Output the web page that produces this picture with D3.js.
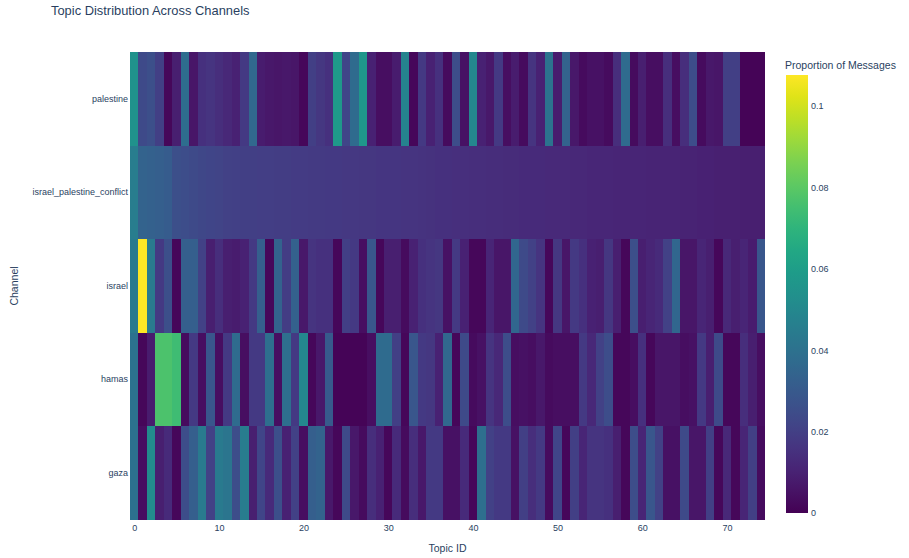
<!DOCTYPE html>
<html>
<head>
<meta charset="utf-8">
<script src="https://cdn.jsdelivr.net/npm/d3@7"></script>
<style>
  html, body { margin: 0; padding: 0; background: #fff; }
  svg text { font-family: "Liberation Sans", Arial, sans-serif; fill: #2a3f5f; }
</style>
</head>
<body>
<svg id="chart" width="909" height="558"></svg>
<script>
const channels = ["palestine", "israel_palestine_conflict", "israel", "hamas", "gaza"];
const topics = d3.range(0, 75);
const xTicks = [0, 10, 20, 30, 40, 50, 60, 70];
const colorTicks = [0, 0.02, 0.04, 0.06, 0.08, 0.1];

const palestine = [
  0.055, 0.024, 0.026, 0.020, 0.002, 0.009, 0.038, 0.006, 0.015, 0.016,
  0.014, 0.012, 0.010, 0.018, 0.036, 0.008, 0.007, 0.006, 0.007, 0.006,
  0.002, 0.020, 0.017, 0.015, 0.058, 0.022, 0.037, 0.057, 0.010, 0.004,
  0.004, 0.008, 0.048, 0.002, 0.018, 0.010, 0.015, 0.003, 0.025, 0.005,
  0.050, 0.010, 0.007, 0.018, 0.004, 0.008, 0.003, 0.016, 0.010, 0.041,
  0.008, 0.034, 0.007, 0.003, 0.005, 0.005, 0.003, 0.014, 0.037, 0.003,
  0.009, 0.004, 0.004, 0.014, 0.004, 0.014, 0.025, 0.003, 0.007, 0.006,
  0.020, 0.020, 0.001, 0.001, 0.001
];
const israelPalestineConflict = [
  0.045, 0.034, 0.033, 0.032, 0.031, 0.026, 0.025, 0.024, 0.023, 0.022,
  0.0215, 0.021, 0.0205, 0.0200, 0.0198, 0.0196, 0.0194, 0.0192, 0.0190, 0.0188,
  0.0186, 0.0184, 0.0182, 0.0180, 0.0178, 0.0176, 0.0174, 0.0172, 0.0170, 0.0168,
  0.0166, 0.0164, 0.0162, 0.0160, 0.0157, 0.0154, 0.0151, 0.0148, 0.0146, 0.0144,
  0.0142, 0.0140, 0.0138, 0.0136, 0.0134, 0.0132, 0.0130, 0.0128, 0.0127, 0.0126,
  0.0124, 0.0122, 0.0120, 0.0118, 0.0116, 0.0115, 0.0114, 0.0113, 0.0112, 0.0111,
  0.0110, 0.0109, 0.0108, 0.0107, 0.0106, 0.0104, 0.0102, 0.0100, 0.0098, 0.0096,
  0.0094, 0.0093, 0.0092, 0.0091, 0.0090
];
const israel = [
  0.044, 0.1076, 0.044, 0.018, 0.026, 0.002, 0.032, 0.032, 0.021, 0.009,
  0.014, 0.009, 0.008, 0.010, 0.018, 0.032, 0.002, 0.034, 0.019, 0.033,
  0.007, 0.016, 0.015, 0.015, 0.002, 0.020, 0.018, 0.004, 0.029, 0.002,
  0.009, 0.009, 0.003, 0.010, 0.015, 0.016, 0.017, 0.005, 0.018, 0.010,
  0.002, 0.002, 0.011, 0.006, 0.006, 0.035, 0.024, 0.021, 0.016, 0.002,
  0.017, 0.006, 0.018, 0.015, 0.010, 0.009, 0.017, 0.009, 0.002, 0.026,
  0.009, 0.011, 0.013, 0.021, 0.035, 0.006, 0.006, 0.011, 0.009, 0.002,
  0.012, 0.009, 0.011, 0.008, 0.029
];
const hamas = [
  0.040, 0.002, 0.008, 0.077, 0.077, 0.074, 0.003, 0.018, 0.004, 0.029,
  0.004, 0.018, 0.037, 0.004, 0.018, 0.018, 0.039, 0.004, 0.039, 0.018,
  0.050, 0.002, 0.007, 0.030, 0.001, 0.001, 0.001, 0.001, 0.004, 0.037,
  0.037, 0.020, 0.002, 0.029, 0.018, 0.017, 0.010, 0.036, 0.002, 0.024,
  0.003, 0.005, 0.016, 0.012, 0.025, 0.004, 0.005, 0.004, 0.007, 0.003,
  0.004, 0.004, 0.004, 0.018, 0.012, 0.021, 0.025, 0.002, 0.002, 0.004,
  0.015, 0.002, 0.006, 0.006, 0.006, 0.004, 0.005, 0.018, 0.009, 0.024,
  0.002, 0.002, 0.014, 0.009, 0.004
];
const gaza = [
  0.040, 0.004, 0.052, 0.009, 0.013, 0.002, 0.025, 0.032, 0.044, 0.021,
  0.044, 0.042, 0.025, 0.045, 0.009, 0.022, 0.013, 0.026, 0.010, 0.021,
  0.004, 0.032, 0.034, 0.007, 0.002, 0.024, 0.007, 0.003, 0.014, 0.010,
  0.002, 0.013, 0.003, 0.014, 0.007, 0.018, 0.018, 0.005, 0.005, 0.013,
  0.002, 0.039, 0.021, 0.018, 0.018, 0.005, 0.020, 0.014, 0.018, 0.003,
  0.022, 0.002, 0.020, 0.011, 0.016, 0.016, 0.015, 0.009, 0.002, 0.025,
  0.011, 0.029, 0.021, 0.005, 0.005, 0.024, 0.006, 0.006, 0.020, 0.002,
  0.012, 0.002, 0.011, 0.020, 0.003
];
const seriesByChannel = [palestine, israelPalestineConflict, israel, hamas, gaza];

const cells = [];
channels.forEach((ch, ci) => {
  seriesByChannel[ci].forEach((v, ti) => cells.push({ channel: ch, topic: topics[ti], value: v }));
});

const svg = d3.select("#chart");
const plot = { left: 130, right: 765, top: 52, bottom: 520 };

const x = d3.scaleLinear().domain([-0.5, 74.5]).range([plot.left, plot.right]);
const y = d3.scaleBand().domain(channels).range([plot.top, plot.bottom]).padding(0);
const zmax = d3.max(cells, d => d.value);
const color = d3.scaleSequential(d3.interpolateViridis).domain([0, zmax]);

// cells
svg.append("g").selectAll("rect").data(cells).join("rect")
  .attr("x", d => x(d.topic - 0.5))
  .attr("y", d => y(d.channel))
  .attr("width", d => x(d.topic + 0.5) - x(d.topic - 0.5) + 0.4)
  .attr("height", y.bandwidth() + 0.4)
  .attr("fill", d => color(d.value))
  .attr("shape-rendering", "crispEdges");

// x axis
const xAxis = svg.append("g").attr("transform", `translate(0,${plot.bottom})`)
  .call(d3.axisBottom(x).tickValues(xTicks).tickSize(0).tickPadding(5).tickFormat(d3.format("d")));
xAxis.select(".domain").remove();
xAxis.selectAll("text").style("font-size", "9px").style("fill", "#2a3f5f");

// y axis
const yAxis = svg.append("g").attr("transform", `translate(${plot.left},0)`)
  .call(d3.axisLeft(y).tickSize(0).tickPadding(2));
yAxis.select(".domain").remove();
yAxis.selectAll("text").style("font-size", "9px").style("fill", "#2a3f5f");

// axis titles
svg.append("text").attr("x", (plot.left + plot.right) / 2).attr("y", 552)
  .attr("text-anchor", "middle").style("font-size", "10.5px").text("Topic ID");
svg.append("text").attr("transform", `translate(18,${(plot.top + plot.bottom) / 2}) rotate(-90)`)
  .attr("text-anchor", "middle").style("font-size", "10.5px").text("Channel");

// title
svg.append("text").attr("x", 51).attr("y", 15).style("font-size", "12.9px")
  .text("Topic Distribution Across Channels");

// colorbar
const cb = { x: 786, w: 22, top: 75, bottom: 513 };
const cbScale = d3.scaleLinear().domain([0, zmax]).range([cb.bottom, cb.top]);
const defs = svg.append("defs");
const grad = defs.append("linearGradient").attr("id", "cbgrad")
  .attr("x1", 0).attr("y1", 1).attr("x2", 0).attr("y2", 0);
d3.range(0, 1.0001, 0.05).forEach(t => {
  grad.append("stop").attr("offset", t).attr("stop-color", d3.interpolateViridis(t));
});
svg.append("rect").attr("x", cb.x).attr("y", cb.top).attr("width", cb.w)
  .attr("height", cb.bottom - cb.top).attr("fill", "url(#cbgrad)");
const cbAxis = svg.append("g").attr("transform", `translate(${cb.x + cb.w},0)`)
  .call(d3.axisRight(cbScale).tickValues(colorTicks).tickSize(0).tickPadding(3)
    .tickFormat(d => d === 0 ? "0" : d3.format("")(+d.toFixed(2))));
cbAxis.select(".domain").remove();
cbAxis.selectAll("text").style("font-size", "9px").style("fill", "#2a3f5f");
svg.append("text").attr("x", cb.x - 1).attr("y", 69).style("font-size", "10.5px")
  .text("Proportion of Messages");
</script>
</body>
</html>
